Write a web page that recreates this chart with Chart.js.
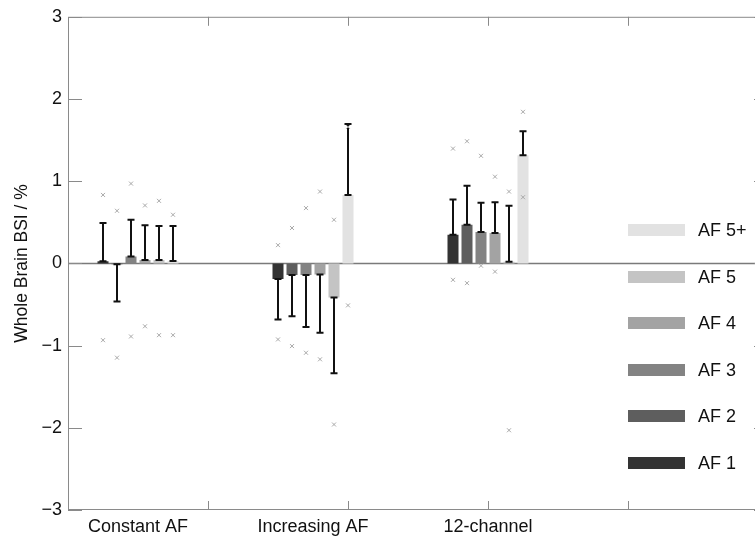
<!DOCTYPE html>
<html>
<head>
<meta charset="utf-8">
<script src="https://cdn.jsdelivr.net/npm/chart.js@4"></script>
<style>
  body { margin: 0; width: 755px; height: 538px; overflow: hidden; background: #fff; }
  #wrap { position: relative; width: 775px; height: 538px; }
  #legend { position: absolute; left: 628px; top: 0; font: 18px "Liberation Sans", Arial, sans-serif; color: #111; }
  .item { position: absolute; left: 0; width: 130px; height: 20px; }
  .item span.sw { position: absolute; left: 0; top: 4px; width: 57px; height: 12px; }
  .item span.tx { position: absolute; left: 70px; top: 0; line-height: 20px; white-space: nowrap; }
</style>
</head>
<body>
<div id="wrap">
  <canvas id="chart" width="775" height="538"></canvas>
  <div id="legend"></div>
</div>
<script>
// groups on the x axis (MATLAB positions 1,2,3)
const groups = ['Constant AF', 'Increasing AF', '12-channel'];
const groupX = [1, 2, 3];
const xTickMarks = [1.4, 2.2, 3.0, 3.8];
const yTicks = [-3, -2, -1, 0, 1, 2, 3];

const levels = ['AF 1', 'AF 2', 'AF 3', 'AF 4', 'AF 5', 'AF 5+'];
const colors = ['#333333', '#5e5e5e', '#838383', '#a3a3a3', '#c4c4c4', '#e2e2e2'];

// mean BSI per level, one value per group
const barMean = [
  [0.025, -0.19, 0.35],
  [-0.01, -0.14, 0.47],
  [0.085, -0.14, 0.383],
  [0.04, -0.135, 0.371],
  [0.04, -0.414, 0.02],
  [0.03, 0.833, 1.317]
];
// standard deviation (drawn one-sided, away from zero)
const barErr = [
  [0.466, 0.494, 0.428],
  [0.453, 0.504, 0.475],
  [0.446, 0.633, 0.354],
  [0.424, 0.71, 0.374],
  [0.415, 0.922, 0.68],
  [0.425, 0.862, 0.29]
];
// max / min markers
const crossHigh = [
  [0.833, 0.222, 1.397],
  [0.64, 0.431, 1.486],
  [0.971, 0.673, 1.309],
  [0.705, 0.874, 1.055],
  [0.761, 0.531, 0.874],
  [0.592, 1.66, 1.844]
];
const crossLow = [
  [-0.934, -0.925, -0.2],
  [-1.147, -1.006, -0.24],
  [-0.889, -1.087, -0.028],
  [-0.765, -1.167, -0.1],
  [-0.873, -1.96, -2.03],
  [-0.873, -0.511, 0.805]
];

const FONT = '"Liberation Sans", Arial, sans-serif';

const datasets = levels.map((name, i) => ({
  label: name,
  data: groupX.map((x, g) => ({ x: x, y: barMean[i][g] })),
  backgroundColor: colors[i],
  borderWidth: 0,
  categoryPercentage: 0.48,
  barPercentage: 0.786
}));

const decor = {
  id: 'decor',
  beforeDatasetsDraw(chart) {
    const { ctx, chartArea: a, scales: { y } } = chart;
    ctx.save();
    // zero baseline
    ctx.strokeStyle = '#7a7a7a';
    ctx.lineWidth = 1.5;
    ctx.beginPath();
    ctx.moveTo(a.left, y.getPixelForValue(0));
    ctx.lineTo(a.right, y.getPixelForValue(0));
    ctx.stroke();
    ctx.restore();
  },
  afterDatasetsDraw(chart) {
    const { ctx, chartArea: a, scales: { x, y } } = chart;
    ctx.save();
    // error bars
    ctx.strokeStyle = '#111';
    ctx.lineWidth = 2;
    levels.forEach((name, i) => {
      const meta = chart.getDatasetMeta(i);
      meta.data.forEach((bar, g) => {
        const m = barMean[i][g];
        const end = m >= 0 ? m + barErr[i][g] : m - barErr[i][g];
        const y0 = y.getPixelForValue(m), y1 = y.getPixelForValue(end);
        ctx.beginPath();
        ctx.moveTo(bar.x, y0);
        ctx.lineTo(bar.x, y1);
        ctx.moveTo(bar.x - 3.5, y1);
        ctx.lineTo(bar.x + 3.5, y1);
        ctx.moveTo(bar.x - 3.5, y0);
        ctx.lineTo(bar.x + 3.5, y0);
        ctx.stroke();
      });
    });
    // max/min crosses
    ctx.strokeStyle = '#a8a8a8';
    ctx.lineWidth = 1;
    levels.forEach((name, i) => {
      const meta = chart.getDatasetMeta(i);
      meta.data.forEach((bar, g) => {
        [crossHigh[i][g], crossLow[i][g]].forEach(v => {
          const py = y.getPixelForValue(v);
          ctx.beginPath();
          ctx.moveTo(bar.x - 2, py - 2);
          ctx.lineTo(bar.x + 2, py + 2);
          ctx.moveTo(bar.x - 2, py + 2);
          ctx.lineTo(bar.x + 2, py - 2);
          ctx.stroke();
        });
      });
    });
    // axes box and inward tick marks
    ctx.strokeStyle = '#8a8a8a';
    ctx.lineWidth = 1;
    ctx.strokeRect(a.left + 0.5, a.top + 0.5, a.right - a.left - 1, a.bottom - a.top - 1);
    ctx.beginPath();
    xTickMarks.forEach(v => {
      const px = Math.round(x.getPixelForValue(v)) + 0.5;
      ctx.moveTo(px, a.bottom);
      ctx.lineTo(px, a.bottom - 9);
      ctx.moveTo(px, a.top);
      ctx.lineTo(px, a.top + 9);
    });
    yTicks.forEach(v => {
      const py = Math.round(y.getPixelForValue(v)) + 0.5;
      ctx.moveTo(a.left, py);
      ctx.lineTo(a.left + 14, py);
      ctx.moveTo(a.right, py);
      ctx.lineTo(a.right - 14, py);
    });
    ctx.stroke();
    ctx.restore();
  }
};

new Chart(document.getElementById('chart'), {
  type: 'bar',
  data: { datasets: datasets },
  options: {
    responsive: false,
    animation: false,
    layout: { padding: { top: 13, right: 7, left: 8, bottom: 0 } },
    plugins: { legend: { display: false }, tooltip: { enabled: false } },
    scales: {
      x: {
        type: 'linear',
        min: 0.6,
        max: 4.6,
        offset: false,
        grid: { display: false, drawTicks: false, offset: false },
        border: { display: false },
        afterBuildTicks: s => { s.ticks = groupX.map(v => ({ value: v })); },
        afterFit: s => { s.height = 28; },
        ticks: {
          autoSkip: false,
          maxRotation: 0,
          padding: 6,
          color: '#111',
          font: { family: FONT, size: 18 },
          callback: (v, i) => groups[i]
        }
      },
      y: {
        min: -3,
        max: 3,
        grid: { display: false, drawTicks: false },
        border: { display: false },
        afterFit: s => { s.width = 60; },
        ticks: {
          stepSize: 1,
          padding: 6,
          color: '#111',
          font: { family: FONT, size: 18 },
          callback: v => v < 0 ? '\u2212' + Math.abs(v) : String(v)
        },
        title: {
          display: true,
          text: 'Whole Brain BSI / %',
          color: '#111',
          font: { family: FONT, size: 17.5 }
        }
      }
    }
  },
  plugins: [decor]
});

// legend, top entry is AF 5+
const legend = document.getElementById('legend');
levels.slice().reverse().forEach((name, k) => {
  const i = levels.length - 1 - k;
  const item = document.createElement('div');
  item.className = 'item';
  item.style.top = (220 + k * 46.6) + 'px';
  item.innerHTML = '<span class="sw" style="background:' + colors[i] + '"></span><span class="tx">' + name + '</span>';
  legend.appendChild(item);
});
</script>
</body>
</html>
